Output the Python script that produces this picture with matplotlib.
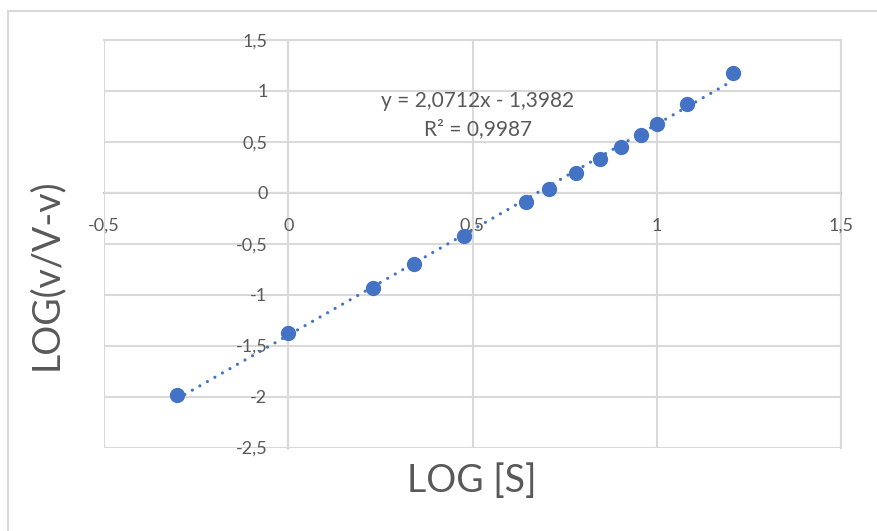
import matplotlib.pyplot as plt
import matplotlib.patches as patches
import numpy as np

log_s = [-0.301, 0.0, 0.230, 0.342, 0.477, 0.645, 0.708, 0.781, 0.845, 0.904, 0.956, 1.001, 1.081, 1.207]
log_v = [-1.983, -1.380, -0.934, -0.698, -0.423, -0.086, 0.039, 0.190, 0.331, 0.452, 0.567, 0.678, 0.875, 1.177]

slope = 2.0712
intercept = -1.3982
r2 = 0.9987

x_ticks = [-0.5, 0, 0.5, 1, 1.5]
y_ticks = [-2.5, -2, -1.5, -1, -0.5, 0, 0.5, 1, 1.5]

blue = '#4472C4'
grey_txt = '#595959'
grid_col = '#d9d9d9'

plt.rcParams['font.family'] = ['Lato', 'DejaVu Sans']


def fmt(v):
    return ('%g' % v).replace('.', ',')


W, H = 877, 531
fig = plt.figure(figsize=(W / 100, H / 100), dpi=100)

# chart frame
fig.patches.append(patches.Rectangle((8 / W, -0.1), 1.2, (H - 11) / H + 0.1,
                                     transform=fig.transFigure, fill=False,
                                     edgecolor=grid_col, lw=1.5))

left, right, top, bottom = 104, 841, 40, 447.5
ax = fig.add_axes([left / W, (H - bottom) / H, (right - left) / W, (bottom - top) / H])

ax.set_xlim(-0.5, 1.5)
ax.set_ylim(-2.5, 1.5)
ax.set_xticks(x_ticks)
ax.set_yticks(y_ticks)
ax.set_xticklabels([fmt(v) for v in x_ticks])
ax.set_yticklabels([fmt(v) for v in y_ticks])
ax.grid(True, color=grid_col, lw=1.5)
ax.set_axisbelow(True)

ax.spines['left'].set_position(('data', 0))
ax.spines['bottom'].set_position(('data', 0))
for s in ['left', 'bottom']:
    ax.spines[s].set_color('#bfbfbf')
    ax.spines[s].set_linewidth(1.5)
    ax.spines[s].set_zorder(0.4)
for s in ['top', 'right']:
    ax.spines[s].set_color(grid_col)
    ax.spines[s].set_linewidth(1.5)
    ax.spines[s].set_zorder(0.4)

ax.tick_params(axis='both', length=0, labelsize=13, labelcolor=grey_txt)
ax.tick_params(axis='x', pad=18)
ax.tick_params(axis='y', pad=15)

# linear trend line
tx = np.array([min(log_s), max(log_s)])
ax.plot(tx, slope * tx + intercept, color=blue, lw=2.3,
        linestyle=(0, (0.01, 2.7)), dash_capstyle='round', zorder=3)
ax.scatter(log_s, log_v, s=11 ** 2, color=blue, zorder=4, linewidths=0)

eq = 'y = %sx - %s' % (fmt(slope), fmt(abs(intercept)))
ax.text(0.515, 0.905, eq, fontsize=15, color=grey_txt, ha='center', va='center')
ax.text(0.515, 0.625, 'R² = %s' % fmt(r2), fontsize=15, color=grey_txt,
        ha='center', va='center')

fig.text(472 / W, 1 - 481 / H, 'LOG [S]', fontsize=27, color=grey_txt,
         ha='center', va='center')
fig.text(46 / W, 1 - 274 / H, 'LOG(v/V-v)', fontsize=27, color=grey_txt,
         ha='center', va='center', rotation=90)

fig.savefig('out.png', dpi=100)
